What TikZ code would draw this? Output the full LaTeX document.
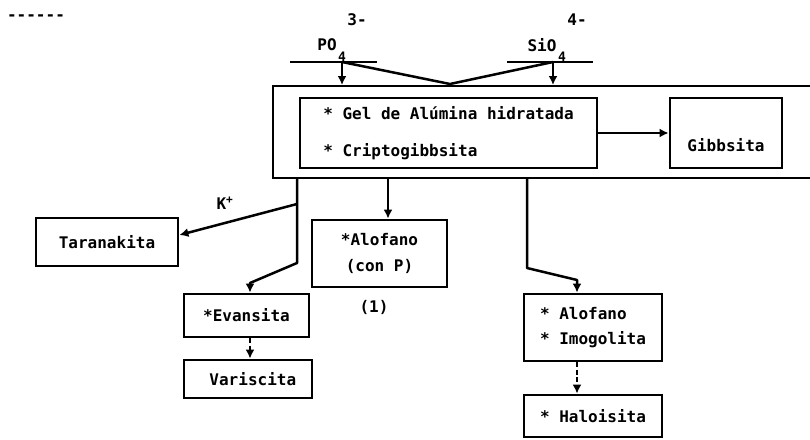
\documentclass[tikz,border=0pt]{standalone}
\usepackage{fontspec}
\setmonofont{DejaVu Sans Mono}
\usepackage{tikz}
\usetikzlibrary{arrows.meta}
\tikzset{font=\ttfamily\bfseries\fontsize{16}{19}\selectfont}
\tikzset{mineral/.style={draw, line width=2.8pt, inner sep=0pt}}
\tikzset{tag/.style={inner sep=0pt}}
\tikzset{small tag/.style={inner sep=0pt, font=\ttfamily\bfseries\fontsize{13}{15}\selectfont}}
\tikzset{flow/.style={line width=2.5pt, line join=round, -{Latex[length=9pt,width=9pt]}}}
\tikzset{slow/.style={flow, dash pattern=on 5pt off 2.5pt}}

\begin{document}
\begin{tikzpicture}[x=1pt, y=-1pt]
\useasboundingbox (0,0) rectangle (810,439);
\node[tag] (dashes) at (36,18) {------};
% anions
\coordinate (po) at (342,62);
\coordinate (sio) at (553,62);
\coordinate (vee) at (450,84);
\draw[line width=2.8pt] (290,62) -- (377,62);
\draw[line width=2.8pt] (507,62) -- (593,62);
\node[tag] (po-charge) at (357,20) {3-};
\node[tag] (po-name) at (327,45) {PO};
\node[small tag] (po-sub) at (342,57) {4};
\node[tag] (sio-charge) at (577,20) {4-};
\node[tag] (sio-name) at (542,45) {SiO};
\node[small tag] (sio-sub) at (562,57) {4};
% amorphous phases
\node[mineral, line width=2.3pt, anchor=north west, minimum width=560pt, minimum height=92pt] (system) at (272,85) {};
\node[mineral, minimum width=297pt, minimum height=70pt, align=left] (gel) at (448.5,133)
 {* Gel de Alúmina hidratada\\[18pt]* Criptogibbsita};
\node[mineral, minimum width=112pt, minimum height=70pt, text height=37pt, text depth=0pt] (gibbsita) at (726,133) {Gibbsita};
\draw[flow] (po) -- (po |- system.north);
\draw[flow] (sio) -- (sio |- system.north);
\draw[line width=2.5pt, line join=round] (po) -- (vee) -- (sio);
\draw[flow] (gel.east) -- (gibbsita.west);
% products
\node[mineral, minimum width=142pt, minimum height=48pt] (taranakita) at (107,242) {Taranakita};
\node[mineral, minimum width=135pt, minimum height=67pt, align=center] (alofano-p) at (379.5,253.5)
 {*Alofano\\[7pt] (con P)};
\node[tag] (note) at (374,307) {(1)};
\node[mineral, minimum width=125pt, minimum height=43pt] (evansita) at (246.5,315.5) {*Evansita};
\node[mineral, minimum width=128pt, minimum height=38pt] (variscita) at (248,379) {\ Variscita};
\node[mineral, minimum width=138pt, minimum height=67pt, align=left] (imogolita) at (593,327.5)
 {* Alofano\\[6pt]* Imogolita};
\node[mineral, minimum width=138pt, minimum height=42pt] (haloisita) at (593,416) {* Haloisita};
\coordinate (d1) at (297,177);
\coordinate (d2) at (388,177);
\coordinate (d3) at (527,177);
\coordinate (k) at (297,204);
\coordinate (b1) at (297,263);
\coordinate (b1e) at (250,283);
\coordinate (b3) at (527,268);
\coordinate (b3e) at (577,280);
\draw[flow] (d1) -- (b1) -- (b1e) -- (b1e |- evansita.north);
\draw[flow] (k) -- ([yshift=7pt]taranakita.east);
\node[tag] (potassium) at (225,203) {K\textsuperscript{+}};
\draw[flow] (d2) -- (d2 |- alofano-p.north);
\draw[flow] (d3) -- (b3) -- (b3e) -- (b3e |- imogolita.north);
\draw[slow] (b1e |- evansita.south) -- (b1e |- variscita.north);
\draw[slow] (b3e |- imogolita.south) -- (b3e |- haloisita.north);
%\node[tag] at (400,430) {};
\end{tikzpicture}
\end{document}
